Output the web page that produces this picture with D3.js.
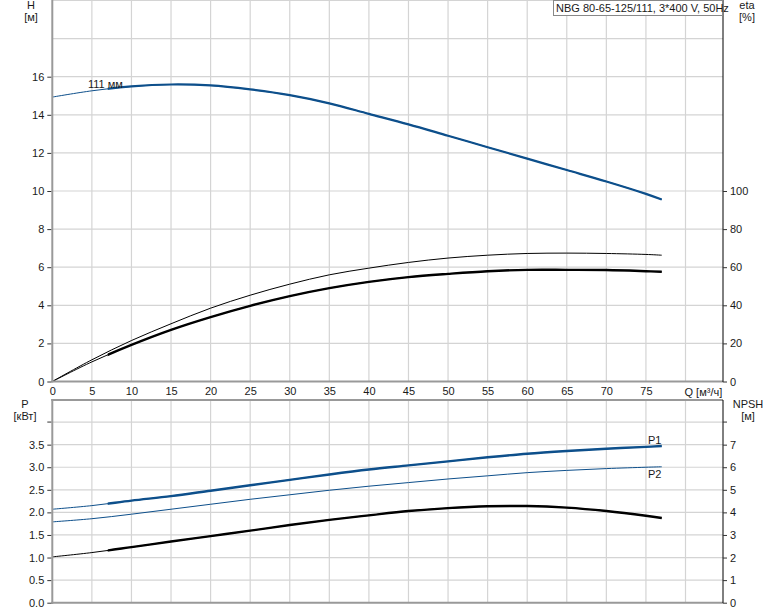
<!DOCTYPE html>
<html><head><meta charset="utf-8">
<script src="https://cdn.jsdelivr.net/npm/d3@7"></script>
<style>
body{margin:0;background:#fff;}
text{font-family:"Liberation Sans",Arial,sans-serif;font-size:11px;fill:#1a1a1a;}
</style></head><body>
<svg id="c" width="774" height="611"></svg>
<script>
const title = "NBG 80-65-125/111, 3*400 V, 50Hz";
const Q      = [0,5,10,15,20,25,30,35,40,45,50,55,60,65,70,75,77];
const H      = [14.93,15.26,15.49,15.59,15.54,15.33,15.03,14.6,14.05,13.5,12.9,12.3,11.7,11.1,10.5,9.85,9.55];
const etaP   = [0,11.4,21.5,30.3,38.5,45.3,51.1,56.0,59.5,62.5,64.8,66.3,67.2,67.4,67.2,66.7,66.3];
const etaT   = [0,10.3,19.2,27.1,33.8,39.7,44.8,49.0,52.3,54.8,56.5,57.9,58.6,58.6,58.5,57.9,57.6];
const P1     = [2.07,2.15,2.26,2.36,2.48,2.60,2.72,2.84,2.95,3.04,3.13,3.22,3.30,3.36,3.41,3.45,3.47];
const P2     = [1.79,1.86,1.96,2.07,2.18,2.29,2.39,2.49,2.58,2.66,2.74,2.81,2.88,2.93,2.97,3.00,3.01];
const NPSH   = [2.03,2.22,2.46,2.71,2.95,3.19,3.44,3.67,3.87,4.06,4.19,4.27,4.28,4.21,4.06,3.85,3.75];
const xTicks = [0,5,10,15,20,25,30,35,40,45,50,55,60,65,70,75];
const hTicks = [0,2,4,6,8,10,12,14,16];
const etaTicks = [0,20,40,60,80,100];
const pTicks = [0,0.5,1.0,1.5,2.0,2.5,3.0,3.5];
const npshTicks = [0,1,2,3,4,5,6,7];
const thickFrom = 7;

const svg = d3.select("#c");
const L = 52.3, R = 723;
const x = d3.scaleLinear().domain([0,80]).range([L, 685.5]);
const yH = d3.scaleLinear().domain([0,20]).range([381.5,0.5]);
const yE = d3.scaleLinear().domain([0,200]).range([381.5,0.5]);
const yP = d3.scaleLinear().domain([0,4.5]).range([602.7,399.5]);
const yN = d3.scaleLinear().domain([0,9]).range([602.7,399.5]);
const blue = "#0d4f8b";
const grid = "#d4d4d4";

function panel(y0, y1, hLines, yS){
  const g = svg.append("g");
  d3.range(5,81,5).forEach(q=>{
    g.append("line").attr("x1",x(q)).attr("x2",x(q)).attr("y1",y0).attr("y2",y1)
      .attr("stroke",grid).attr("stroke-width",1.2);
  });
  hLines.forEach(v=>{
    g.append("line").attr("x1",L).attr("x2",R).attr("y1",yS(v)).attr("y2",yS(v))
      .attr("stroke",grid).attr("stroke-width",1.2);
  });
}
panel(0,381.5,[2,4,6,8,10,12,14,16,18,20],yH);
panel(399.5,602.7,[0.5,1,1.5,2,2.5,3,3.5,4],yP);

svg.append("defs").append("clipPath").attr("id","thick")
  .append("rect").attr("x",x(thickFrom)).attr("y",0).attr("width",R-x(thickFrom)).attr("height",611);

function curve(vals, yS, color, thickW, thinOnly){
  const pts = Q.map((q,i)=>[q,vals[i]]);
  const line = d3.line().x(d=>x(d[0])).y(d=>yS(d[1])).curve(d3.curveCatmullRom.alpha(0.5));
  svg.append("path").attr("d",line(pts)).attr("fill","none").attr("stroke",color).attr("stroke-width",1);
  if(!thinOnly){
    svg.append("path").attr("d",line(pts)).attr("fill","none").attr("stroke",color)
      .attr("stroke-width",thickW).attr("clip-path","url(#thick)");
  }
}
curve(H, yH, blue, 2.2);
curve(etaP, yE, "#000", 1.3, true);
curve(etaT, yE, "#000", 2.4);
curve(P1, yP, blue, 2.4);
curve(P2, yP, blue, 1.3, true);
curve(NPSH, yN, "#000", 2.4);

// axes
const axCol = "#999";
svg.append("line").attr("x1",L).attr("x2",L).attr("y1",0).attr("y2",382.5).attr("stroke",axCol).attr("stroke-width",2);
svg.append("line").attr("x1",L).attr("x2",L).attr("y1",399).attr("y2",604).attr("stroke",axCol).attr("stroke-width",2);
svg.append("line").attr("x1",L-1).attr("x2",R).attr("y1",381.5).attr("y2",381.5).attr("stroke",axCol).attr("stroke-width",2);
svg.append("line").attr("x1",L-1).attr("x2",R).attr("y1",400).attr("y2",400).attr("stroke",axCol).attr("stroke-width",2);
svg.append("line").attr("x1",L-1).attr("x2",R).attr("y1",602.7).attr("y2",602.7).attr("stroke",axCol).attr("stroke-width",2);
svg.append("line").attr("x1",R).attr("x2",R).attr("y1",0).attr("y2",382).attr("stroke","#000").attr("stroke-width",1);
svg.append("line").attr("x1",R).attr("x2",R).attr("y1",400).attr("y2",603).attr("stroke","#000").attr("stroke-width",1);

function leftAxis(yS, ticks, fmt, extra){
  const a = d3.axisLeft(yS).tickValues(ticks).tickSize(4).tickPadding(3).tickFormat(fmt);
  const g = svg.append("g").attr("transform",`translate(${L-1},0)`).call(a);
  g.select(".domain").remove();
  g.selectAll("line").attr("stroke","#333");
  g.selectAll("text").attr("font-family",null).attr("font-size",null).attr("fill",null);
  if(extra!=null) g.append("line").attr("x1",-4).attr("x2",0).attr("y1",yS(extra)).attr("y2",yS(extra)).attr("stroke","#333");
}
function rightAxis(yS, ticks, fmt, extra){
  const a = d3.axisRight(yS).tickValues(ticks).tickSize(4).tickPadding(3).tickFormat(fmt);
  const g = svg.append("g").attr("transform",`translate(${R},0)`).call(a);
  g.select(".domain").remove();
  g.selectAll("line").attr("stroke","#333");
  g.selectAll("text").attr("font-family",null).attr("font-size",null).attr("fill",null);
  if(extra!=null) g.append("line").attr("x1",0).attr("x2",4).attr("y1",yS(extra)).attr("y2",yS(extra)).attr("stroke","#333");
}
leftAxis(yH, hTicks, d3.format("d"));
rightAxis(yE, etaTicks, d3.format("d"));
leftAxis(yP, pTicks, d3.format(".1f"), 4.0);
rightAxis(yN, npshTicks, d3.format("d"), 8);

const gx = svg.append("g").attr("transform","translate(0,383)")
  .call(d3.axisBottom(x).tickValues(xTicks).tickSize(0).tickPadding(4).tickFormat(d3.format("d")));
gx.select(".domain").remove();
gx.selectAll("text").attr("font-family",null).attr("font-size",null).attr("fill",null);
svg.append("text").attr("x",x(80)-1).attr("y",396).text("Q [м³/ч]");

// unit labels
function lab(t,xx,yy){ svg.append("text").attr("x",xx).attr("y",yy).attr("text-anchor","middle").text(t); }
lab("H",31,9); lab("[м]",31,21);
lab("eta",747,9); lab("[%]",747,21);
lab("P",25,408); lab("[кВт]",25,420);
lab("NPSH",748,408); lab("[м]",748,420);

// title box
svg.append("rect").attr("x",553.5).attr("y",0.5).attr("width",169).attr("height",15)
  .attr("fill","#fff").attr("stroke","#888");
svg.append("text").attr("x",556).attr("y",12).text(title);

svg.append("text").attr("x",88).attr("y",88).text("111 мм");
svg.append("text").attr("x",648).attr("y",444).text("P1");
svg.append("text").attr("x",648).attr("y",478).text("P2");
</script></body></html>
